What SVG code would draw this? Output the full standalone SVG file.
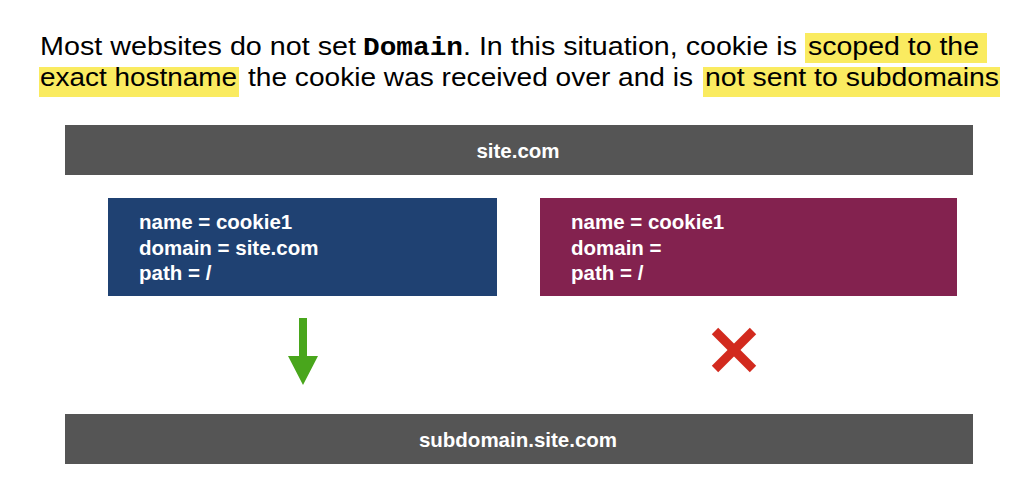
<svg xmlns="http://www.w3.org/2000/svg" width="1025" height="487" viewBox="0 0 1025 487">
<defs>
<style>
.title{font-family:"Liberation Sans",Arial,sans-serif;font-size:26px;fill:#000}
.mono{font-family:"Liberation Mono","Courier New",monospace;font-weight:bold}
.hl{fill:#FAEB60}
.bar{fill:#555555}
.barlabel{font-family:"Liberation Sans",Arial,sans-serif;font-size:20.5px;font-weight:bold;fill:#fff;text-anchor:middle}
.boxtext{font-family:"Liberation Sans",Arial,sans-serif;font-size:20.5px;font-weight:bold;fill:#fff}
</style>
</defs>
<rect width="1025" height="487" fill="#fff"/>
<g id="title">
<rect class="hl" x="805" y="33" width="182" height="30"/>
<rect class="hl" x="39" y="67" width="200" height="30"/>
<rect class="hl" x="703" y="67" width="297" height="30"/>
<text class="title" y="55"><tspan x="40" textLength="316" lengthAdjust="spacingAndGlyphs">Most websites do not set</tspan><tspan class="mono" x="363" textLength="100" lengthAdjust="spacingAndGlyphs">Domain</tspan><tspan x="463" textLength="334" lengthAdjust="spacingAndGlyphs">. In this situation, cookie is</tspan><tspan x="808" textLength="171" lengthAdjust="spacingAndGlyphs">scoped to the</tspan></text>
<text class="title" y="86"><tspan x="40" textLength="197" lengthAdjust="spacingAndGlyphs">exact hostname</tspan><tspan x="248" textLength="445" lengthAdjust="spacingAndGlyphs">the cookie was received over and is</tspan><tspan x="705" textLength="294" lengthAdjust="spacingAndGlyphs">not sent to subdomains</tspan></text>
</g>
<g id="site">
<rect class="bar" x="65" y="125" width="908" height="50"/>
<text class="barlabel" x="518" y="158">site.com</text>
</g>
<g id="cookie-domain">
<rect x="108" y="198" width="389" height="98" fill="#1F4172"/>
<text class="boxtext"><tspan x="139" y="229">name = cookie1</tspan><tspan x="139" y="255">domain = site.com</tspan><tspan x="139" y="280">path = /</tspan></text>
</g>
<g id="cookie-nodomain">
<rect x="540" y="198" width="417" height="98" fill="#83224F"/>
<text class="boxtext"><tspan x="571" y="229">name = cookie1</tspan><tspan x="571" y="255">domain = </tspan><tspan x="571" y="280">path = /</tspan></text>
</g>
<g id="subdomain">
<rect class="bar" x="65" y="414" width="908" height="50"/>
<text class="barlabel" x="518" y="447">subdomain.site.com</text>
</g>
<g id="connectors">
<polygon points="299,318 307,318 307,356 318,356 303,385 288,356 299,356" fill="#49A61C"/>
<line x1="715" y1="331" x2="753" y2="369" stroke="#D22A1E" stroke-width="9"/>
<line x1="753" y1="331" x2="715" y2="369" stroke="#D22A1E" stroke-width="9"/>
</g>
</svg>
